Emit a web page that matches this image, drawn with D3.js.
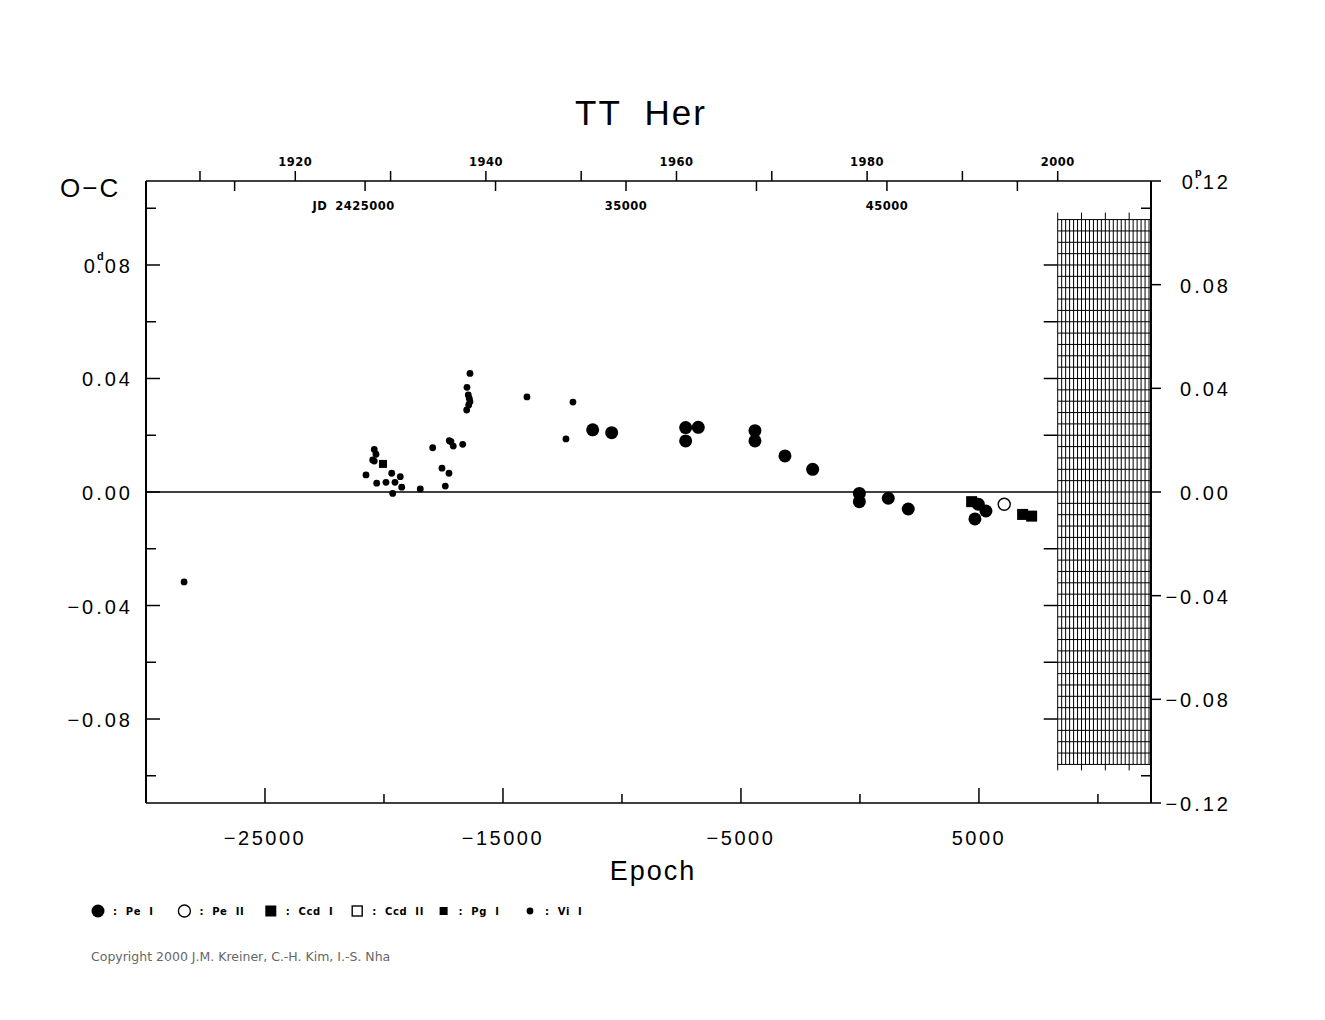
<!DOCTYPE html>
<html>
<head>
<meta charset="utf-8">
<script src="https://cdn.jsdelivr.net/npm/d3@7"></script>
<style>
  body { margin: 0; background: #fff; }
  svg { display: block; }
</style>
</head>
<body>
<svg id="chart" width="1325" height="1020"></svg>
<script>
// ---------------- data (epoch, O-C in days) ----------------
const peI = [
  [-11231, 0.0219], [-10433, 0.0209], [-7324, 0.0227], [-6794, 0.0228], [-7324, 0.0180],
  [-4412, 0.0216], [-4412, 0.0180], [-3151, 0.0127], [-1987, 0.0080],
  [-25, -0.0005], [-25, -0.0034], [1190, -0.0022], [2029, -0.0060],
  [4971, -0.0043], [5294, -0.0067], [4832, -0.0095]
];
const peII = [[6063, -0.0043]];
const ccdI = [[4693, -0.0034], [6836, -0.0079], [7214, -0.0085]];
const ccdII = [];
const pgI = [[-20042, 0.0099]];
const viI = [
  [-28400, -0.0317], [-20756, 0.0060], [-20408, 0.0150], [-20336, 0.0133], [-20475, 0.0113],
  [-20408, 0.0109], [-20307, 0.0031], [-19916, 0.0034], [-19676, 0.0066], [-19538, 0.0034],
  [-19315, 0.0054], [-19256, 0.0017], [-19634, -0.0005], [-18475, 0.0011], [-17954, 0.0156],
  [-17563, 0.0084], [-17269, 0.0066], [-17424, 0.0021], [-17256, 0.0181], [-17185, 0.0177],
  [-17088, 0.0162], [-16693, 0.0168], [-16387, 0.0418], [-16513, 0.0369], [-16458, 0.0342],
  [-16416, 0.0330], [-16387, 0.0318], [-16441, 0.0307], [-16525, 0.0289],
  [-13992, 0.0335], [-12059, 0.0317], [-12353, 0.0187]
];
const legendLabels = ["Pe I", "Pe II", "Ccd I", "Ccd II", "Pg I", "Vi I"];
const epochTicks = [-30000, -25000, -20000, -15000, -10000, -5000, 0, 5000, 10000];
const epochLabels = [-25000, -15000, -5000, 5000];
const leftTicks = [-0.10, -0.08, -0.06, -0.04, -0.02, 0, 0.02, 0.04, 0.06, 0.08, 0.10];
const leftLabels = [-0.08, -0.04, 0, 0.04, 0.08];
const rightTicks = [-0.12, -0.08, -0.04, 0, 0.04, 0.08, 0.12];
const yearTicks = [1910, 1920, 1930, 1940, 1950, 1960, 1970, 1980, 1990, 2000, 2010];
const yearLabels = [1920, 1940, 1960, 1980, 2000];
const jdTicks = [2420000, 2425000, 2430000, 2435000, 2440000, 2445000, 2450000];
const jdLabels = [2425000, 2435000, 2445000];
const T0 = 2443966, PERIOD = 0.91208;   // ephemeris linking epoch and JD
const hatchStartYear = 2000, hatchLimit = 0.096;

// ---------------- scales ----------------
const svg = d3.select("#chart");
const L = 146, R = 1151, T = 181, B = 803;
const x = d3.scaleLinear().domain([-30000, 12230]).range([L, R]);
const yL = d3.scaleLinear().domain([-0.1096, 0.1096]).range([B, T]);
const yR = d3.scaleLinear().domain([-0.12, 0.12]).range([B, T]);
const jdToE = jd => (jd - T0) / PERIOD;
const yearToE = yr => jdToE(2451545 + (yr - 2000) * 365.25);
const eMax = x.domain()[1];
const SANS = "'Liberation Sans', 'DejaVu Sans', sans-serif";
const DV = "'DejaVu Sans', sans-serif";

const g = svg.append("g");
const line = (x1, y1, x2, y2, w) => g.append("line")
  .attr("x1", x1).attr("y1", y1).attr("x2", x2).attr("y2", y2)
  .attr("stroke", "#000").attr("stroke-width", w || 1.5);
const txt = (xx, yy, size, anchor, family) => g.append("text")
  .attr("x", xx).attr("y", yy).attr("text-anchor", anchor || "start")
  .style("font-family", family || SANS).style("font-size", size + "px").style("fill", "#000");

// ---------------- hatch ----------------
const hx0 = x(yearToE(hatchStartYear)), hx1 = R;
const hy0 = yL(hatchLimit), hy1 = yL(-hatchLimit);
const hg = g.append("g");
for (let v = -hatchLimit; v <= hatchLimit + 1e-9; v += 0.004) {
  hg.append("line").attr("x1", hx0).attr("x2", hx1).attr("y1", yL(v)).attr("y2", yL(v))
    .attr("stroke", "#000").attr("stroke-width", 1);
}
for (let k = 0; ; k++) {
  const yr = hatchStartYear + k * 2.5 / 6;
  const xx = x(yearToE(yr));
  if (xx > hx1 + 0.5) break;
  const long = k % 6 === 0;
  hg.append("line").attr("x1", xx).attr("x2", xx)
    .attr("y1", long ? hy0 - 7 : hy0).attr("y2", long ? hy1 + 6 : hy1)
    .attr("stroke", "#000").attr("stroke-width", 1);
}

// ---------------- frame ----------------
line(L, T, R, T);
line(L, B, R, B);
line(L, T, L, B, 2);
line(R, T, R, B, 2);
line(L, yL(0), hx0, yL(0), 1.5);

// bottom axis
epochTicks.forEach(e => {
  const major = epochLabels.includes(e);
  line(x(e), B, x(e), B - (major ? 15 : 9));
});
epochLabels.forEach(e => {
  txt(x(e), 845, 20, "middle").style("letter-spacing", "2.5px")
    .text(d3.format("d")(e).replace("-", "\u2212"));
});

// label with superscript unit mark above the decimal point
function supLabel(xx, yy, value, mark) {
  const s = d3.format(".2f")(value).replace("-", "\u2212");
  const t = txt(xx, yy, 20, "end").style("letter-spacing", "3px");
  if (!mark) { t.text(s); return; }
  const i = s.indexOf(".");
  t.append("tspan").text(s.slice(0, i));
  t.append("tspan").attr("dy", -13).attr("dx", -1).style("font-size", "11px")
    .style("font-weight", "bold").style("letter-spacing", "0px").text(mark);
  t.append("tspan").attr("dy", 13).attr("dx", -7.5).text(s.slice(i));
}

// left axis ticks and mirrored ticks
leftTicks.forEach(v => {
  const major = leftLabels.some(l => Math.abs(l - v) < 1e-9);
  line(L, yL(v), L + (major ? 14 : 10), yL(v));
  if (Math.abs(v) < 1e-9) return;
  if (Math.abs(v) <= hatchLimit) line(hx0, yL(v), hx0 - 14, yL(v));
  else line(R, yL(v), R - 10, yL(v));
});
leftLabels.forEach(v => supLabel(133, yL(v) + 8, v, v === d3.max(leftLabels) ? "d" : null));

// right axis
rightTicks.forEach(v => line(R, yR(v), R + 10, yR(v)));
rightTicks.forEach(v => supLabel(1231, yR(v) + 8, v, v === d3.max(rightTicks) ? "p" : null));

// top axis: years (outside) and JD (inside)
yearTicks.forEach(yr => {
  const e = yearToE(yr);
  if (e > eMax + 50) return;
  line(x(e), T, x(e), T - 10);
});
yearLabels.forEach(yr => {
  txt(x(yearToE(yr)), 166, 11.5, "middle", DV).style("font-weight", "bold")
    .style("letter-spacing", "0.5px").text(yr);
});
jdTicks.forEach(jd => line(x(jdToE(jd)), T, x(jdToE(jd)), T + 10));
jdLabels.forEach((jd, i) => {
  const s = i === 0 ? String(jd) : String(jd).slice(2);
  const t = txt(x(jdToE(jd)), 210, 11.5, "middle", DV).style("font-weight", "bold")
    .style("letter-spacing", "0.5px").text(s);
  if (i === 0) {
    const bb = t.node().getBBox();
    txt(bb.x - 8, 210, 11.5, "end", DV).style("font-weight", "bold")
      .style("letter-spacing", "0.5px").text("JD");
  }
});

// titles
txt(641, 125, 35, "middle").style("letter-spacing", "2px").style("white-space", "pre").text("TT  Her");
txt(60, 197, 26).style("letter-spacing", "2px").text("O\u2212C");
txt(653, 880, 27, "middle").style("letter-spacing", "2px").text("Epoch");

// ---------------- symbols ----------------
const sym = {
  "Pe I":  (sel, cx, cy) => sel.append("circle").attr("cx", cx).attr("cy", cy).attr("r", 6.5).attr("fill", "#000"),
  "Pe II": (sel, cx, cy) => sel.append("circle").attr("cx", cx).attr("cy", cy).attr("r", 6).attr("fill", "#fff").attr("stroke", "#000").attr("stroke-width", 1.4),
  "Ccd I": (sel, cx, cy) => sel.append("rect").attr("x", cx - 5.5).attr("y", cy - 5.5).attr("width", 11).attr("height", 11).attr("fill", "#000"),
  "Ccd II":(sel, cx, cy) => sel.append("rect").attr("x", cx - 5).attr("y", cy - 5).attr("width", 10).attr("height", 10).attr("fill", "#fff").attr("stroke", "#000").attr("stroke-width", 1.4),
  "Pg I":  (sel, cx, cy) => sel.append("rect").attr("x", cx - 4).attr("y", cy - 4).attr("width", 8).attr("height", 8).attr("fill", "#000"),
  "Vi I":  (sel, cx, cy) => sel.append("circle").attr("cx", cx).attr("cy", cy).attr("r", 3.4).attr("fill", "#000")
};
const series = [["Vi I", viI], ["Pg I", pgI], ["Pe I", peI], ["Ccd I", ccdI], ["Ccd II", ccdII], ["Pe II", peII]];
const pg = svg.append("g");
series.forEach(([name, data]) => data.forEach(d => sym[name](pg, x(d[0]), yL(d[1]))));

// ---------------- legend ----------------
const lg = svg.append("g");
const legX = d3.scalePoint().domain(legendLabels).range([98, 530]);
legendLabels.forEach(name => {
  const cx = legX(name);
  sym[name](lg, cx, 911);
  lg.append("text").attr("x", cx + 15).attr("y", 915)
    .style("font-family", DV).style("font-size", "10px").style("font-weight", "bold")
    .style("letter-spacing", "0.6px").style("white-space", "pre")
    .text(":  " + name.replace(" ", "  "));
});
lg.append("text").attr("x", 91).attr("y", 961)
  .style("font-family", DV).style("font-size", "12.5px").style("fill", "#666")
  .text("Copyright 2000 J.M. Kreiner, C.-H. Kim, I.-S. Nha");
</script>
</body>
</html>
